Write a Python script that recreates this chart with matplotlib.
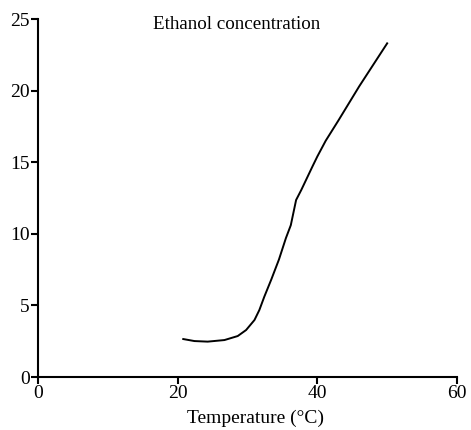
import matplotlib
matplotlib.use("Agg")
import matplotlib.pyplot as plt

temperature = [20.8, 22.4, 24.3, 26.7, 28.6, 29.8, 31.0, 31.7, 32.4, 33.4, 34.5, 35.5, 36.2, 36.96, 37.7, 39.3, 40.0, 41.2, 43.0, 46.0, 50.0]
ethanol = [2.65, 2.51, 2.47, 2.58, 2.86, 3.28, 3.98, 4.68, 5.6, 6.8, 8.2, 9.7, 10.6, 12.36, 13.06, 14.7, 15.4, 16.5, 17.9, 20.3, 23.3]
x_ticks = [0, 20, 40, 60]
y_ticks = [0, 5, 10, 15, 20, 25]

plt.rcParams['font.family'] = ['Liberation Serif', 'DejaVu Serif']

fig = plt.figure(figsize=(4.71, 4.30), dpi=100)
ax = fig.add_axes([38/471, 1-377/430, (457-38)/471, (377-19)/430])
ax.plot(temperature, ethanol, color='black', lw=1.4, solid_joinstyle='round')
ax.set_xlim(0, 60)
ax.set_ylim(0, 25)
ax.set_xticks(x_ticks)
ax.set_yticks(y_ticks)
for s in ['top', 'right']:
    ax.spines[s].set_visible(False)
for s in ['left', 'bottom']:
    ax.spines[s].set_linewidth(1.5)
ax.tick_params(direction='out', length=5, width=1.5, labelsize=14, pad=1)
ax.set_xlabel('Temperature (°C)', fontsize=14)
ax.xaxis.set_label_coords(0.518, -0.092, transform=ax.transAxes)
ax.xaxis.label.set_va('top')
ax.text(28.4, 24.6, 'Ethanol concentration', fontsize=13.7, ha='center', va='center')
fig.savefig('out.png', dpi=100)
